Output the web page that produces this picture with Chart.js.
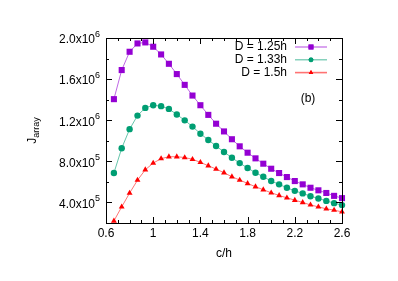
<!DOCTYPE html>
<html lang="en">
<head>
<meta charset="UTF-8">
<title>J array vs c/h</title>
<script src="https://cdn.jsdelivr.net/npm/chart.js"></script>
<style>
  html, body { margin: 0; padding: 0; background: #fff; }
  #wrap { width: 398px; height: 281px; }
</style>
</head>
<body>
<div id="wrap"><canvas id="chart" width="398" height="281"></canvas></div>
<script>
// c/h values (x)
const cOverH = [0.667, 0.733, 0.800, 0.867, 0.933, 1.000, 1.067, 1.133, 1.200, 1.267,
                1.333, 1.400, 1.467, 1.533, 1.600, 1.667, 1.733, 1.800, 1.867, 1.933,
                2.000, 2.067, 2.133, 2.200, 2.267, 2.333, 2.400, 2.467, 2.533, 2.600];

// J_array for each D
const jD125 = [1.405e6, 1.688e6, 1.866e6, 1.947e6, 1.957e6, 1.915e6, 1.840e6, 1.749e6, 1.649e6, 1.544e6,
               1.440e6, 1.346e6, 1.252e6, 1.166e6, 1.091e6, 1.015e6, 0.946e6, 0.884e6, 0.829e6, 0.777e6,
               0.728e6, 0.686e6, 0.647e6, 0.608e6, 0.576e6, 0.543e6, 0.518e6, 0.492e6, 0.464e6, 0.442e6];
const jD133 = [0.686e6, 0.927e6, 1.113e6, 1.245e6, 1.320e6, 1.346e6, 1.337e6, 1.310e6, 1.255e6, 1.199e6,
               1.138e6, 1.069e6, 1.008e6, 0.949e6, 0.891e6, 0.835e6, 0.783e6, 0.735e6, 0.689e6, 0.650e6,
               0.608e6, 0.576e6, 0.543e6, 0.513e6, 0.488e6, 0.461e6, 0.439e6, 0.415e6, 0.393e6, 0.374e6];
const jD150 = [0.220e6, 0.357e6, 0.491e6, 0.617e6, 0.718e6, 0.783e6, 0.826e6, 0.845e6, 0.845e6, 0.837e6,
               0.820e6, 0.790e6, 0.757e6, 0.725e6, 0.689e6, 0.650e6, 0.618e6, 0.585e6, 0.553e6, 0.524e6,
               0.494e6, 0.468e6, 0.445e6, 0.422e6, 0.400e6, 0.376e6, 0.357e6, 0.338e6, 0.325e6, 0.308e6];

const seriesNames = ['D = 1.25h', 'D = 1.33h', 'D = 1.5h'];

// axis ticks
const xMajorTicks = [0.6, 1.0, 1.4, 1.8, 2.2, 2.6];
const xTickLabels = ['0.6', '1', '1.4', '1.8', '2.2', '2.6'];
const xMinorTicks = [0.7, 0.8, 0.9, 1.1, 1.2, 1.3, 1.5, 1.6, 1.7, 1.9, 2.0, 2.1, 2.3, 2.4, 2.5];
const yMajorTicks = [4e5, 8e5, 1.2e6, 1.6e6, 2.0e6];
const yTickMantissa = ['4.0x10', '8.0x10', '1.2x10', '1.6x10', '2.0x10'];
const yTickExponent = ['5', '5', '6', '6', '6'];
const yMinorTicks = [2e5, 6e5, 1.0e6, 1.4e6, 1.8e6];

const FONT = '"Liberation Sans", Arial, sans-serif';

function pts(ys) {
    return cOverH.map((x, i) => ({ x: x, y: ys[i] }));
}

const styles = [
    { line: 'rgba(148, 0, 211, 0.6)', mark: '#9400d3', shape: 'rect', r: 4.3 },
    { line: 'rgba(0, 158, 115, 0.6)', mark: '#009e73', shape: 'circle', r: 3.2 },
    { line: 'rgba(255, 0, 0, 0.55)', mark: '#ff0000', shape: 'triangle', r: 3.4 }
];
const allSeries = [jD125, jD133, jD150];

const gnuplotLook = {
    id: 'gnuplotLook',
    afterDraw(chart) {
        const ctx = chart.ctx;
        const a = chart.chartArea;
        const xs = chart.scales.x, ys = chart.scales.y;
        ctx.save();

        // ticks (inward, mirrored)
        ctx.strokeStyle = '#000';
        ctx.lineWidth = 1;
        ctx.beginPath();
        const xt = (v, len) => {
            const p = Math.round(xs.getPixelForValue(v)) + 0.5;
            ctx.moveTo(p, a.bottom); ctx.lineTo(p, a.bottom - len);
            ctx.moveTo(p, a.top); ctx.lineTo(p, a.top + len);
        };
        const yt = (v, len) => {
            const p = Math.round(ys.getPixelForValue(v)) + 0.5;
            ctx.moveTo(a.left, p); ctx.lineTo(a.left + len, p);
            ctx.moveTo(a.right, p); ctx.lineTo(a.right - len, p);
        };
        xMajorTicks.forEach(v => xt(v, 6));
        xMinorTicks.forEach(v => xt(v, 3));
        yMajorTicks.forEach(v => yt(v, 6));
        yMinorTicks.forEach(v => yt(v, 3));
        ctx.stroke();

        // border
        ctx.strokeRect(Math.round(a.left) + 0.5, Math.round(a.top) + 0.5,
                       Math.round(a.right - a.left), Math.round(a.bottom - a.top));

        ctx.fillStyle = '#000';
        // x tick labels
        ctx.font = '12px ' + FONT;
        ctx.textAlign = 'center';
        ctx.textBaseline = 'middle';
        xMajorTicks.forEach((v, i) => {
            ctx.fillText(xTickLabels[i], xs.getPixelForValue(v), a.bottom + 11);
        });

        // y tick labels with superscript
        const rightX = a.left - 6;
        yMajorTicks.forEach((v, i) => {
            const py = ys.getPixelForValue(v);
            ctx.font = '9px ' + FONT;
            const ew = ctx.measureText(yTickExponent[i]).width;
            ctx.textAlign = 'left';
            ctx.textBaseline = 'alphabetic';
            ctx.fillText(yTickExponent[i], rightX - ew, py - 1);
            ctx.font = '12px ' + FONT;
            ctx.textAlign = 'right';
            ctx.textBaseline = 'middle';
            ctx.fillText(yTickMantissa[i], rightX - ew, py + 2);
        });

        // axis titles
        ctx.font = '12px ' + FONT;
        ctx.textAlign = 'center';
        ctx.textBaseline = 'middle';
        ctx.fillText('c/h', (a.left + a.right) / 2, a.bottom + 31);

        ctx.save();
        ctx.translate(36, (a.top + a.bottom) / 2);
        ctx.rotate(-Math.PI / 2);
        ctx.font = '12px ' + FONT;
        const jw = ctx.measureText('J').width;
        ctx.font = '9px ' + FONT;
        const sw = ctx.measureText('array').width;
        const start = -(jw + sw) / 2;
        ctx.textAlign = 'left';
        ctx.textBaseline = 'alphabetic';
        ctx.font = '12px ' + FONT;
        ctx.fillText('J', start, 0);
        ctx.font = '9px ' + FONT;
        ctx.fillText('array', start + jw, 3);
        ctx.restore();

        // legend (gnuplot style: text right, sample on the right)
        const textRight = a.right - 55;
        const sx0 = a.right - 47, sx1 = a.right - 15;
        seriesNames.forEach((name, i) => {
            const yy = a.top + 9 + i * 12.8;
            ctx.font = '12px ' + FONT;
            ctx.textAlign = 'right';
            ctx.textBaseline = 'middle';
            ctx.fillStyle = '#000';
            ctx.fillText(name, textRight, yy);
            ctx.strokeStyle = styles[i].line;
            ctx.lineWidth = i === 2 ? 1.6 : 1.2;
            ctx.beginPath();
            ctx.moveTo(sx0, yy); ctx.lineTo(sx1, yy);
            ctx.stroke();
            ctx.fillStyle = styles[i].mark;
            Chart.helpers.drawPoint(ctx, {
                pointStyle: styles[i].shape, radius: styles[i].r - 0.8, rotation: 0, borderWidth: 0
            }, (sx0 + sx1) / 2, yy);
            ctx.fill();
        });

        // panel label
        ctx.fillStyle = '#000';
        ctx.font = '12px ' + FONT;
        ctx.textAlign = 'center';
        ctx.fillText('(b)', a.right - 34, a.top + 61);

        ctx.restore();
    }
};

new Chart(document.getElementById('chart'), {
    type: 'line',
    data: {
        datasets: allSeries.map((ys, i) => ({
            label: seriesNames[i],
            data: pts(ys),
            borderColor: styles[i].line,
            borderWidth: 1,
            backgroundColor: styles[i].mark,
            pointBackgroundColor: styles[i].mark,
            pointBorderWidth: 0,
            pointStyle: styles[i].shape,
            pointRadius: styles[i].r,
            tension: 0,
            clip: false
        }))
    },
    options: {
        responsive: false,
        animation: false,
        events: [],
        layout: { padding: { left: 106, right: 56, top: 38, bottom: 58 } },
        plugins: { legend: { display: false }, tooltip: { enabled: false } },
        scales: {
            x: { type: 'linear', min: 0.6, max: 2.6, display: false },
            y: { type: 'linear', min: 2e5, max: 2e6, display: false }
        }
    },
    plugins: [gnuplotLook]
});
</script>
</body>
</html>
